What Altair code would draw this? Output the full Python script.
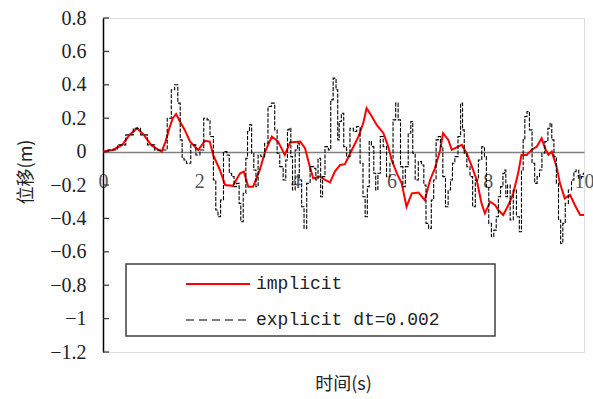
import altair as alt
import pandas as pd

# ---- data ----
implicit_t = [0, 0.2, 0.4, 0.55, 0.71, 0.85, 1.0, 1.15, 1.22, 1.3, 1.38, 1.45, 1.52, 1.6, 1.7,
              1.81, 1.98, 2.12, 2.22, 2.29, 2.43, 2.54, 2.70, 2.85, 2.93, 3.02, 3.12, 3.26, 3.37,
              3.51, 3.64, 3.78, 3.89, 4.10, 4.20, 4.30, 4.37, 4.51, 4.62, 4.72, 4.82, 4.93, 5.03,
              5.14, 5.31, 5.41, 5.48, 5.59, 5.69, 5.83, 5.93, 6.00, 6.11, 6.21, 6.31, 6.42, 6.56,
              6.69, 6.80, 6.90, 7.01, 7.07, 7.18, 7.25, 7.35, 7.46, 7.56, 7.67, 7.77, 7.87, 7.94,
              8.05, 8.15, 8.22, 8.32, 8.43, 8.53, 8.63, 8.70, 8.81, 8.91, 9.02, 9.12, 9.19, 9.26,
              9.33, 9.43, 9.50, 9.60, 9.71, 9.81, 9.92, 10.0]
implicit_y = [0, 0.01, 0.04, 0.10, 0.14, 0.10, 0.04, 0.01, 0.0, 0.06, 0.14, 0.20, 0.225, 0.18, 0.13,
              0.06, 0.01, 0.065, 0.06, -0.02, -0.11, -0.20, -0.205, -0.13, -0.12, -0.21, -0.21, -0.11, 0.0,
              0.09, 0.06, -0.02, 0.055, 0.06, 0.02, -0.09, -0.16, -0.15, -0.17, -0.185, -0.12, -0.08, -0.075,
              -0.01, 0.09, 0.17, 0.26, 0.21, 0.16, 0.11, 0.03, -0.05, -0.13, -0.19, -0.33, -0.25, -0.245,
              -0.29, -0.17, -0.10, 0.01, 0.11, 0.07, 0.01, 0.025, 0.04, -0.01, -0.09, -0.17, -0.31, -0.37,
              -0.30, -0.32, -0.35, -0.38, -0.32, -0.25, -0.13, -0.02, -0.02, 0.01, 0.03, 0.08, 0.02, -0.02,
              0.0, -0.09, -0.19, -0.28, -0.26, -0.32, -0.38, -0.38]

explicit_t = [0, 0.2, 0.4, 0.55, 0.71, 0.85, 1.0, 1.15, 1.29, 1.38, 1.46, 1.52, 1.59, 1.62, 1.67,
              1.70, 1.77, 1.88, 1.98, 2.05, 2.14, 2.19, 2.26, 2.33, 2.36, 2.42, 2.47, 2.54, 2.61,
              2.64, 2.71, 2.74, 2.81, 2.85, 2.88, 2.95, 2.99, 3.02, 3.07, 3.11, 3.16, 3.20, 3.25,
              3.32, 3.40, 3.46, 3.54, 3.60, 3.64, 3.71, 3.78, 3.82, 3.85, 3.89, 3.92, 3.96, 4.03,
              4.06, 4.10, 4.16, 4.20, 4.27, 4.34, 4.41, 4.44, 4.50, 4.55, 4.58, 4.65, 4.72, 4.75,
              4.82, 4.87, 4.89, 4.93, 4.98, 5.03, 5.10, 5.17, 5.24, 5.31, 5.38, 5.43, 5.47, 5.52,
              5.55, 5.61, 5.65, 5.69, 5.74, 5.79, 5.86, 5.93, 6.00, 6.06, 6.11, 6.16, 6.21, 6.26,
              6.31, 6.38, 6.42, 6.46, 6.52, 6.59, 6.65, 6.69, 6.74, 6.80, 6.85, 6.90, 6.95, 6.99,
              7.04, 7.09, 7.15, 7.20, 7.25, 7.28, 7.35, 7.41, 7.46, 7.49, 7.53, 7.60, 7.66, 7.71,
              7.77, 7.84, 7.91, 7.95, 7.99, 8.05, 8.10, 8.15, 8.20, 8.24, 8.29, 8.34, 8.36, 8.39,
              8.43, 8.50, 8.56, 8.63, 8.68, 8.72, 8.75, 8.79, 8.84, 8.89, 8.95, 9.00, 9.05, 9.10,
              9.15, 9.22, 9.28, 9.31, 9.35, 9.40, 9.45, 9.49, 9.54, 9.58, 9.64, 9.71, 9.77, 9.81,
              9.86, 9.92, 9.97, 10.0]
explicit_y = [0, 0.01, 0.04, 0.10, 0.14, 0.10, 0.04, 0.01, 0.01, 0.20, 0.37, 0.40, 0.29, 0.07, -0.04,
              -0.05, -0.07, 0.04, -0.02, 0.01, 0.20, 0.19, 0.09, -0.17, -0.35, -0.39, -0.29, 0.0, -0.02,
              -0.13, -0.15, -0.21, -0.19, -0.31, -0.42, -0.25, -0.04, 0.12, 0.16, -0.01, -0.11, -0.21, -0.02,
              -0.03, 0.05, 0.27, 0.29, 0.13, -0.01, -0.09, -0.17, -0.05, 0.13, 0.14, -0.03, -0.23, 0.01,
              0.05, -0.17, -0.33, -0.46, -0.19, -0.09, -0.10, -0.17, -0.04, -0.27, -0.15, 0.03, 0.01, 0.31,
              0.44, 0.37, 0.07, 0.18, 0.23, 0.03, -0.03, 0.14, 0.12, 0.15, -0.07, -0.27, -0.39, -0.21,
              0.06, 0.03, -0.13, -0.23, -0.13, 0.09, 0.03, -0.15, -0.07, 0.19, 0.29, 0.19, -0.09, -0.21,
              -0.09, 0.11, 0.18, -0.01, -0.17, -0.06, -0.08, -0.20, -0.43, -0.46, -0.29, -0.17, 0.07, 0.09,
              0.03, -0.15, -0.33, -0.23, -0.17, -0.07, -0.03, 0.09, 0.29, 0.13, -0.01, -0.09, -0.15, -0.33,
              -0.17, -0.05, 0.03, -0.03, -0.21, -0.43, -0.51, -0.47, -0.39, -0.27, -0.21, -0.13, -0.11, -0.27,
              -0.20, -0.41, -0.23, -0.39, -0.48, -0.11, 0.07, 0.21, 0.24, 0.13, -0.07, -0.19, -0.15, -0.11,
              -0.01, 0.06, 0.14, 0.17, 0.07, -0.03, -0.19, -0.41, -0.55, -0.43, -0.31, -0.23, -0.17, -0.12,
              -0.11, -0.16, -0.15, -0.13]

series_names = ["implicit", "explicit dt=0.002"]
y_ticks = [-1.2, -1.0, -0.8, -0.6, -0.4, -0.2, 0.0, 0.2, 0.4, 0.6, 0.8]
x_ticks = [0, 2, 4, 6, 8, 10]
x_title = "时间(s)"
y_title = "位移(m)"

W, H = 481, 334
MONO = "Liberation Mono"
SERIF = "Liberation Serif"
CJK = "Noto Sans CJK SC"

imp = pd.DataFrame({"t": implicit_t, "y": implicit_y})
exp_ = pd.DataFrame({"t": explicit_t, "y": explicit_y})
ticks_df = pd.DataFrame({"y": y_ticks})

xscale = alt.Scale(domain=[0, 10], nice=False, zero=False)
yscale = alt.Scale(domain=[-1.2, 0.8], nice=False, zero=False)

xaxis = alt.Axis(values=x_ticks, offset=-200, ticks=False, grid=False, title=None,
                 domainColor="#808080", domainWidth=1.5, labelFont=SERIF, labelFontSize=20,
                 labelColor="#555555", labelPadding=19, labelFlush=False, format=".0f")
yaxis = alt.Axis(values=y_ticks, ticks=False, grid=False, title=None,
                 domainColor="black", domainWidth=1.5, labelFont=SERIF, labelFontSize=20,
                 labelColor="#222222", labelPadding=17, format=".1~f", labelFlush=False)

red_line = alt.Chart(imp).mark_line(color="#ff0000", strokeWidth=2).encode(
    x=alt.X("t:Q", scale=xscale, axis=xaxis),
    y=alt.Y("y:Q", scale=yscale, axis=yaxis),
)
black_line = alt.Chart(exp_).mark_line(color="black", strokeWidth=1.1, strokeDash=[4, 1.5],
                                       interpolate="step").encode(
    x=alt.X("t:Q", scale=xscale, axis=xaxis),
    y=alt.Y("y:Q", scale=yscale, axis=yaxis),
)
yticks = alt.Chart(ticks_df).mark_rule(color="#333333", strokeWidth=1.2).encode(
    x=alt.value(0), x2=alt.value(6),
    y=alt.Y("y:Q", scale=yscale, axis=yaxis),
)

one = alt.Data(values=[{"a": 1}])
leg_box = alt.Chart(one).mark_rect(fill="white", stroke="#404040", strokeWidth=1.5).encode(
    x=alt.value(23), x2=alt.value(392), y=alt.value(246), y2=alt.value(318))
leg_red = alt.Chart(one).mark_rule(color="#ff0000", strokeWidth=2).encode(
    x=alt.value(83), x2=alt.value(147), y=alt.value(266))
leg_blk = alt.Chart(one).mark_rule(color="black", strokeWidth=1.1, strokeDash=[8, 5]).encode(
    x=alt.value(83), x2=alt.value(147), y=alt.value(302))
leg_t1 = alt.Chart(alt.Data(values=[{"label": series_names[0]}])).mark_text(
    font=MONO, fontSize=18, align="left", baseline="middle", color="#222222").encode(
    x=alt.value(153), y=alt.value(266), text="label:N")
leg_t2 = alt.Chart(alt.Data(values=[{"label": series_names[1]}])).mark_text(
    font=MONO, fontSize=18, align="left", baseline="middle", color="#222222").encode(
    x=alt.value(153), y=alt.value(302), text="label:N")

xt = alt.Chart(alt.Data(values=[{"label": x_title}])).mark_text(
    font=CJK, fontSize=18, align="center", baseline="middle", color="#222222").encode(
    x=alt.value(W / 2), y=alt.value(367), text="label:N")
yt = alt.Chart(alt.Data(values=[{"label": y_title}])).mark_text(
    font=CJK, fontSize=18, align="center", baseline="middle", angle=270, color="#222222").encode(
    x=alt.value(-76), y=alt.value(154), text="label:N")

chart = alt.layer(red_line, black_line, yticks, leg_box, leg_red, leg_blk, leg_t1, leg_t2, xt, yt).properties(
    width=W, height=H,
    autosize=alt.AutoSizeParams(type="none"),
    padding={"left": 103, "top": 18, "right": 9, "bottom": 47},
).configure_view(stroke="#808080", strokeWidth=1.5).configure(background="white")

chart.save("out.html", embed_options={"renderer": "svg", "actions": False})
